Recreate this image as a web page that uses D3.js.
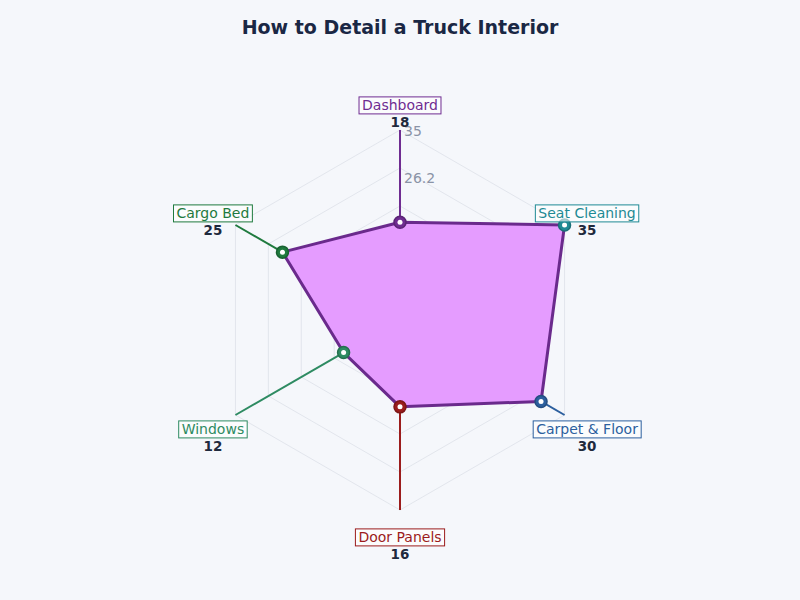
<!DOCTYPE html>
<html>
<head>
<meta charset="utf-8">
<style>
  body { margin: 0; background: #f5f7fb; }
  svg { display: block; font-family: "DejaVu Sans", sans-serif; }
</style>
</head>
<body>
<svg id="chart" width="800" height="600"></svg>
<script src="https://d3js.org/d3.v7.min.js"></script>
<script>
// steps of the detail job and their scores
const steps = ["Dashboard", "Seat Cleaning", "Carpet & Floor", "Door Panels", "Windows", "Cargo Bed"];
const scores = [18, 35, 30, 16, 12, 25];
const stepColors = ["#6f2c91", "#1f8a94", "#2c5f9e", "#9b1c1c", "#2e8b62", "#1f7a3e"];
const gridLevels = [7, 14, 21, 28, 35];
const tickValues = [26.25, 35];
const tickLabels = ["26.2", "35"];

const svg = d3.select("#chart");
const cx = 400, cy = 320, radius = 190;

const r = d3.scaleLinear().domain([0, 35]).range([0, radius]);
const angle = d3.scaleLinear().domain([0, steps.length]).range([0, 2 * Math.PI]);

function pt(i, v) {
    const a = angle(i);
    return [cx + Math.sin(a) * r(v), cy - Math.cos(a) * r(v)];
}

svg.append("text")
   .attr("x", 400).attr("y", 34)
   .attr("text-anchor", "middle")
   .attr("font-size", 19).attr("font-weight", "bold")
   .attr("fill", "#1a2744")
   .text("How to Detail a Truck Interior");

// hexagon grid
const grid = svg.append("g");
gridLevels.forEach(lv => {
    grid.append("polygon")
        .attr("points", steps.map((s, i) => pt(i, lv).join(",")).join(" "))
        .attr("fill", "none")
        .attr("stroke", "#dde1e8")
        .attr("stroke-width", 0.8);
});
steps.forEach((s, i) => {
    const [x, y] = pt(i, 35);
    grid.append("line")
        .attr("x1", cx).attr("y1", cy).attr("x2", x).attr("y2", y)
        .attr("stroke", "#dde1e8").attr("stroke-width", 0.8);
});

// leader lines from point out to rim
steps.forEach((s, i) => {
    const [x1, y1] = pt(i, scores[i]);
    const [x2, y2] = pt(i, 35);
    svg.append("line")
       .attr("x1", x1).attr("y1", y1).attr("x2", x2).attr("y2", y2)
       .attr("stroke", stepColors[i]).attr("stroke-width", 2);
});

// data area
svg.append("polygon")
   .attr("points", scores.map((v, i) => pt(i, v).join(",")).join(" "))
   .attr("fill", "#e59cff")
   .attr("stroke", "#6a2a8c")
   .attr("stroke-width", 3)
   .attr("stroke-linejoin", "round");

// radial tick labels
tickValues.forEach((t, j) => {
    svg.append("text")
       .attr("x", cx + 4).attr("y", cy - r(t) + 1)
       .attr("dy", "0.35em")
       .attr("font-size", 14)
       .attr("fill", "#8a93a6")
       .text(tickLabels[j]);
});

// markers
steps.forEach((s, i) => {
    const [x, y] = pt(i, scores[i]);
    svg.append("circle")
       .attr("cx", x).attr("cy", y).attr("r", 6)
       .attr("fill", stepColors[i])
       .attr("stroke", d3.color(stepColors[i]).darker(0.6))
       .attr("stroke-width", 1.5);
    svg.append("circle")
       .attr("cx", x).attr("cy", y).attr("r", 2.5)
       .attr("fill", "#ffffff");
});

// category labels
steps.forEach((s, i) => {
    const [x, y] = pt(i, 35 * 216 / 190);
    const g = svg.append("g").attr("transform", `translate(${x},${y + 1.5})`);
    const label = g.append("text")
        .attr("text-anchor", "middle")
        .attr("dy", "0.35em")
        .attr("font-size", 14)
        .attr("fill", stepColors[i])
        .text(s);
    const bb = label.node().getBBox();
    g.insert("rect", "text")
     .attr("x", bb.x - 3).attr("y", bb.y - 0.5)
     .attr("width", bb.width + 6).attr("height", bb.height + 1)
     .attr("fill", "#ffffff")
     .attr("fill-opacity", 0.6)
     .attr("stroke", stepColors[i])
     .attr("stroke-width", 1);
    g.append("text")
     .attr("text-anchor", "middle")
     .attr("y", 17).attr("dy", "0.35em")
     .attr("font-size", 13.5).attr("font-weight", "bold")
     .attr("fill", "#1f2a3d")
     .text(scores[i]);
});
</script>
</body>
</html>
